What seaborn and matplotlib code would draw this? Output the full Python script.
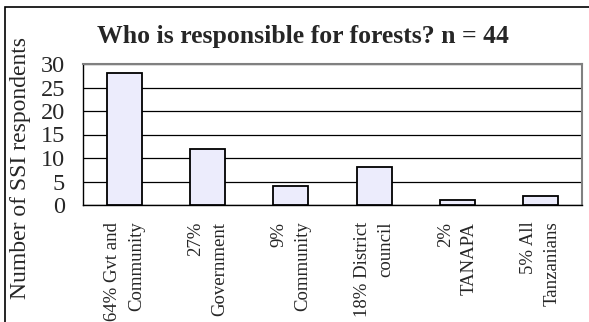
import matplotlib
matplotlib.use("Agg")
import matplotlib.pyplot as plt
import seaborn as sns
from matplotlib.patches import Rectangle

categories = ['64% Gvt and\nCommunity', '27%\nGovernment', '9%\nCommunity',
              '18% District\ncouncil', '2%\nTANAPA', '5% All\nTanzanians']
respondents = [28, 12, 4, 8, 1, 2]
y_ticks = [0, 5, 10, 15, 20, 25, 30]

sns.set_style('white')
plt.rcParams['font.family'] = ['Liberation Serif', 'DejaVu Serif']

fig = plt.figure(figsize=(5.89, 3.22), dpi=100)
ax = fig.add_axes([83 / 589, 1 - 205 / 322, (582 - 83) / 589, (205 - 64) / 322])

sns.barplot(x=categories, y=respondents, color='#ECECFC', saturation=1,
            edgecolor='black', linewidth=1.3, width=0.42, ax=ax, zorder=3)

ax.set_xlim(-0.5, 5.5)
ax.set_ylim(0, 30)
ax.set_yticks(y_ticks)
ax.set_yticklabels([str(t) for t in y_ticks], fontsize=17.5)
ax.yaxis.grid(True, color='black', lw=0.9)
ax.set_axisbelow(True)

ax.set_xticks(range(len(categories)))
ax.set_xticklabels(categories, rotation=90, va='top', ha='center',
                   multialignment='right', fontsize=13.5, linespacing=1.5)
ax.set_xticks([i - 0.5 for i in range(len(categories) + 1)], minor=True)
ax.tick_params(axis='x', which='major', length=0, pad=12)
ax.tick_params(axis='x', which='minor', length=5, width=1, direction='out')
ax.tick_params(axis='y', length=7, width=1, direction='out', pad=6)
ax.set_xlabel('')
ax.set_ylabel('')

for side in ['left', 'bottom']:
    ax.spines[side].set_color('black')
    ax.spines[side].set_linewidth(1)
for side in ['top', 'right']:
    ax.spines[side].set_color('#808080')
    ax.spines[side].set_linewidth(1.5)

fig.text(303 / 589, 1 - 43 / 322, 'Who is responsible for forests? n = 44',
         ha='center', va='baseline', fontsize=18.5, fontweight='bold')
fig.text(21 / 589, 1 - 168 / 322, 'Number of SSI respondents',
         ha='center', va='center', rotation=90, fontsize=17)

fig.add_artist(Rectangle((5 / 589, -0.2), 1.2, 1.2 - 7 / 322, transform=fig.transFigure,
                         fill=False, edgecolor='black', lw=1.2, clip_on=False))

fig.savefig('out.png', dpi=100)
